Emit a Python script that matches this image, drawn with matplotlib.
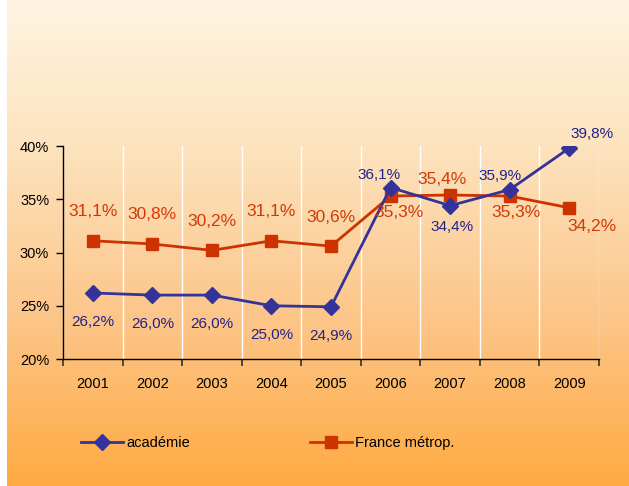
import matplotlib
matplotlib.use("Agg")
import matplotlib.pyplot as plt
from matplotlib.colors import LinearSegmentedColormap
from matplotlib.ticker import FixedLocator, FuncFormatter
import numpy as np

years = ["2001", "2002", "2003", "2004", "2005", "2006", "2007", "2008", "2009"]
academie = [26.2, 26.0, 26.0, 25.0, 24.9, 36.1, 34.4, 35.9, 39.8]
france = [31.1, 30.8, 30.2, 31.1, 30.6, 35.3, 35.4, 35.3, 34.2]
academie_labels = ["26,2%", "26,0%", "26,0%", "25,0%", "24,9%", "36,1%", "34,4%", "35,9%", "39,8%"]
france_labels = ["31,1%", "30,8%", "30,2%", "31,1%", "30,6%", "35,3%", "35,4%", "35,3%", "34,2%"]
yticks = [20, 25, 30, 35, 40]

# label offsets in pixels (dx, dy)
off_acad = [(0, -29)] * 5 + [(-12, 13), (2, -21), (-10, 14), (23, 14)]
off_fr = [(0, 29)] * 5 + [(8, -16), (-8, 15), (6, -16), (23, -19)]

blue = "#333399"
red = "#CC3300"

plt.rcParams["font.family"] = ["Liberation Sans", "DejaVu Sans"]

fig = plt.figure(figsize=(6.29, 4.86), dpi=100)
fig.patch.set_facecolor("white")

# background gradient
bg = fig.add_axes([7 / 629, 0, 1 - 7 / 629, 1], zorder=0)
cmap = LinearSegmentedColormap.from_list(
    "bg", [(0, "#FFF4E2"), (0.3, "#FDE3BE"), (0.65, "#FCC68A"), (1, "#FFAA42")])
grad = np.linspace(0, 1, 256).reshape(-1, 1)
bg.imshow(grad, aspect="auto", cmap=cmap, extent=[0, 1, 1, 0])
bg.set_axis_off()

ax = fig.add_axes([63 / 629, 1 - 359 / 486, 536 / 629, 213 / 486], zorder=1)
ax.patch.set_alpha(0)
x = np.arange(len(years))

ax.plot(x, academie, color=blue, lw=2, marker="D", ms=8, mfc=blue, mec=blue,
        label="académie", zorder=4)
ax.plot(x, france, color=red, lw=2, marker="s", ms=9, mfc=red, mec=red,
        label="France métrop.", zorder=3)

for i in range(len(years)):
    ax.annotate(academie_labels[i], (x[i], academie[i]), xytext=off_acad[i],
                textcoords="offset pixels", ha="center", va="center",
                color="#22228A", fontsize=11, zorder=6)
    ax.annotate(france_labels[i], (x[i], france[i]), xytext=off_fr[i],
                textcoords="offset pixels", ha="center", va="center",
                color="#D03A08", fontsize=12.5, zorder=6)

ax.set_xlim(-0.5, len(years) - 0.5)
ax.set_ylim(20, 40)
ax.set_yticks(yticks)
ax.yaxis.set_major_formatter(FuncFormatter(lambda v, p: "%d%%" % v))
ax.xaxis.set_major_locator(FixedLocator(np.arange(-0.5, len(years), 1.0)))
ax.xaxis.set_minor_locator(FixedLocator(x))
ax.set_xticklabels([])
ax.set_xticklabels(years, minor=True)
ax.tick_params(axis="x", which="major", length=5, width=1.2, color="#333333", direction="out")
ax.tick_params(axis="x", which="minor", length=0, pad=13, labelsize=10.5)
ax.tick_params(axis="y", length=5, width=1, direction="out", pad=5, labelsize=10.5)
ax.grid(axis="x", which="major", color="white", lw=1)
for s in ["top", "right"]:
    ax.spines[s].set_visible(False)
for s in ["left", "bottom"]:
    ax.spines[s].set_color("black")
    ax.spines[s].set_linewidth(1)

fig.legend(loc="center left", bbox_to_anchor=(81 / 629, 1 - 443 / 486), ncol=2,
           frameon=False, borderpad=0, borderaxespad=0, handlelength=2.9,
           handletextpad=0.2, columnspacing=8.2, prop={"size": 10.5})

fig.savefig("out.png", dpi=100)
